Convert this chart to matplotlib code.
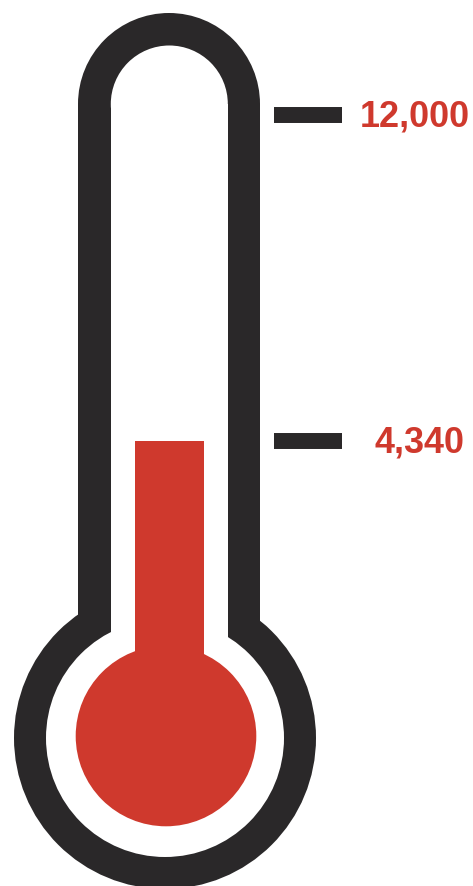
import matplotlib.pyplot as plt
from matplotlib.patches import Circle, Rectangle

# data
goal = 12000
raised = 4340
tick_values = [goal, raised]
tick_labels = ['12,000', '4,340']
label_x = [360, 374]  # left edge of each label, px

DARK = '#2a2829'
RED = '#cf392d'

W, H = 473, 886
fig = plt.figure(figsize=(W / 100, H / 100), dpi=100)

# thermometer body drawn in pixel coordinates
ax_body = fig.add_axes([0, 0, 1, 1])
ax_body.set_xlim(0, W)
ax_body.set_ylim(H, 0)
ax_body.axis('off')

ax_body.add_patch(Circle((169, 104), 91, color=DARK, lw=0))
ax_body.add_patch(Rectangle((78, 104), 182, 634, color=DARK, lw=0))
ax_body.add_patch(Circle((165, 738), 151, color=DARK, lw=0))
ax_body.add_patch(Circle((169.3, 104), 58.5, color='white', lw=0))
ax_body.add_patch(Rectangle((110.8, 104), 117, 634, color='white', lw=0))
ax_body.add_patch(Circle((165, 738), 119, color='white', lw=0))
ax_body.add_patch(Circle((166, 736), 90.3, color=RED, lw=0))

# value axis overlay: pixel rows 115 -> goal, 441.3 -> raised
k = (441.3 - 115) / (goal - raised)
zero_px = 441.3 + raised * k
ax = fig.add_axes([0, 0, 1, 1], facecolor='none')
ax.set_xlim(0, W)
ax.set_ylim(-(H - zero_px) / k, zero_px / k)
ax.axis('off')

bulb_level = -2600
ax.bar(169.5, raised - bulb_level, bottom=bulb_level, width=69, color=RED, lw=0)

ax.hlines(tick_values, 274, 342, colors=DARK, lw=11.5, capstyle='butt')
for v, lab, x in zip(tick_values, tick_labels, label_x):
    ax.annotate(lab, (x, v), xytext=(0, -8.3), textcoords='offset points',
                ha='left', va='baseline', color=RED, fontsize=25.9,
                fontweight='bold', family='Liberation Sans')

fig.savefig('out.png', dpi=100)
